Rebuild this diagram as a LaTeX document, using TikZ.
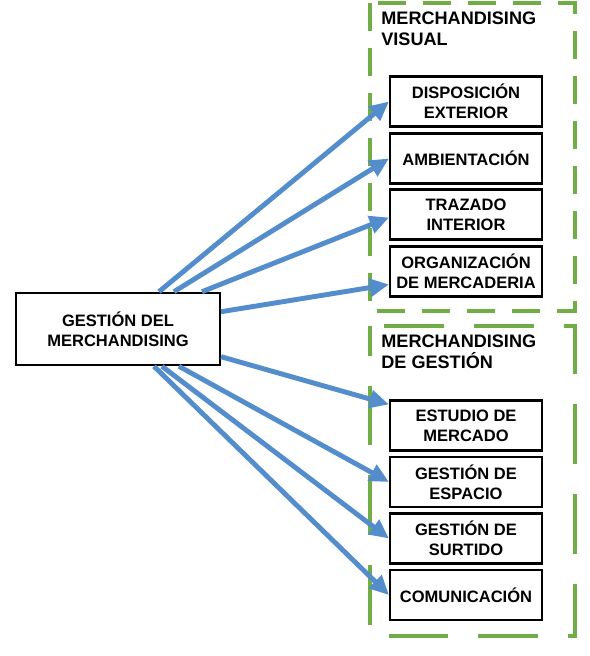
\documentclass[tikz,border=0pt]{standalone}
\usepackage{fontspec}
\setmainfont{Liberation Sans}
\usetikzlibrary{arrows.meta,calc}

\definecolor{flecha}{RGB}{84,141,204}
\definecolor{verde}{RGB}{112,173,71}

\tikzset{
  caja/.style={draw,line width=1.2pt,minimum width=3.04cm,minimum height=1.0cm,align=center,font=\fontsize{9.4}{11.2}\selectfont\bfseries,inner sep=1pt},
  grupo/.style={draw=verde,line width=1.8pt},
  titulo/.style={anchor=north west,align=left,font=\fontsize{10.3}{11.5}\selectfont\bfseries,inner sep=0pt},
  conector/.style={draw=flecha,line width=2.8pt,-{Triangle[length=11pt,width=10pt]}}
}

\begin{document}
\begin{tikzpicture}[x=0.02cm,y=-0.02cm]
\useasboundingbox (0,0) rectangle (589,656);
% Grupos:
\draw[grupo,dash pattern=on 16pt off 9.6pt] (370,3) rectangle (575,311);
\draw[grupo,dash pattern=on 34pt off 17pt,dash phase=17pt] (370,326) rectangle (575,636);
\node (tvisual) [titulo] at (381,12) {MERCHANDISING\\VISUAL};
\node (tgestion) [titulo] at (381,335) {MERCHANDISING\\DE GESTIÓN};
% Cajas:
\node (main) [caja,minimum width=4.08cm,minimum height=1.45cm] at (118,329) {GESTIÓN DEL\\MERCHANDISING};
\node (disp) [caja] at (466,101.5) {DISPOSICIÓN\\EXTERIOR};
\node (amb) [caja] at (466,158.5) {AMBIENTACIÓN};
\node (traz) [caja] at (466,214.5) {TRAZADO\\INTERIOR};
\node (orga) [caja] at (466,271.5) {ORGANIZACIÓN\\DE MERCADERIA};
\node (estu) [caja] at (466,425.5) {ESTUDIO DE\\MERCADO};
\node (espa) [caja] at (466,482) {GESTIÓN DE\\ESPACIO};
\node (surt) [caja] at (466,538.5) {GESTIÓN DE\\SURTIDO};
\node (comu) [caja] at (466,595) {COMUNICACIÓN};
% Flechas:
\draw[conector] ($(main.north west)+(144,0)$) -- (disp.west);
\draw[conector] ($(main.north west)+(159,0)$) -- (amb.west);
\draw[conector] ($(main.north west)+(187,0)$) -- ($(traz.west)+(0,3)$);
\draw[conector] ($(main.north east)+(0,20)$) -- ($(orga.west)+(0,13)$);
\draw[conector] ($(main.north east)+(0,65)$) -- ($(estu.north west)+(0,5)$);
\draw[conector] ($(main.south west)+(164,0)$) -- (espa.west);
\draw[conector] ($(main.south west)+(147,0)$) -- (surt.west);
\draw[conector] ($(main.south west)+(139,0)$) -- (comu.west);
\end{tikzpicture}
\end{document}
